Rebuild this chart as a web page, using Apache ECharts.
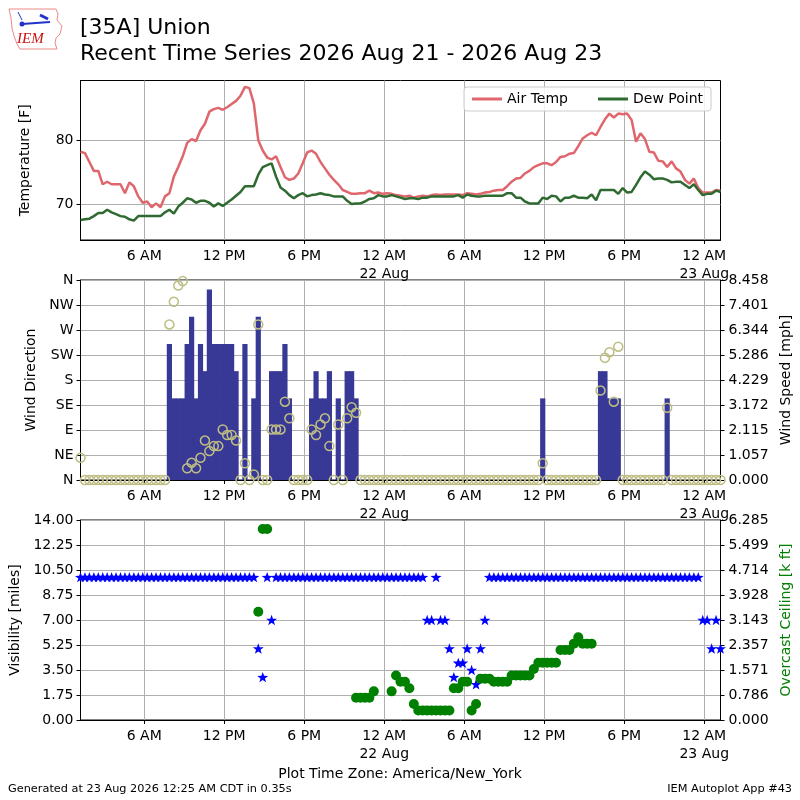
<!DOCTYPE html>
<html>
<head>
<meta charset="utf-8">
<script src="https://cdn.jsdelivr.net/npm/echarts@6/dist/echarts.min.js"></script>
<style>
html,body{margin:0;padding:0;background:#fff;}
#chart{width:800px;height:800px;}
</style>
</head>
<body>
<div id="chart"></div>
<script>
// ---- time base: observations every 20 minutes, hours since 2026-08-21 00:00 (America/New_York)
const startHour = 1.22;
const stepHour = 1 / 3;

// ---- x tick labels
const tickHours = [6, 12, 18, 24, 30, 36, 42, 48];
const tickLabels = ['6 AM', '12 PM', '6 PM', '12 AM\n22 Aug', '6 AM', '12 PM', '6 PM', '12 AM\n23 Aug'];

// ---- temperature panel (F)
const airTemp = [
78.2,78.0,76.6,75.2,75.2,73.1,73.5,73.1,73.1,73.1,
71.7,73.4,72.8,71.2,70.2,70.4,69.5,70.1,69.5,71.2,
71.7,74.3,75.8,77.5,79.6,80.2,79.9,81.6,82.6,84.5,
84.9,85.1,84.8,85.2,85.7,86.2,87.0,88.4,88.2,85.8,
80.0,78.4,77.3,77.0,77.5,75.8,74.2,73.8,74.0,74.8,
76.4,78.1,78.4,77.9,76.6,75.6,74.6,73.8,73.1,72.2,
71.9,71.6,71.6,71.7,71.7,72.1,71.7,71.8,71.6,71.7,
71.6,71.4,71.3,71.2,71.3,71.0,71.2,71.3,71.2,71.4,
71.5,71.4,71.5,71.5,71.5,71.5,71.4,71.7,71.6,71.5,
71.6,71.8,71.9,72.1,72.2,72.2,72.8,73.5,74.0,74.1,
74.8,75.2,75.8,76.1,76.4,76.4,76.1,76.6,77.4,77.5,
77.9,78.0,79.1,80.3,80.8,81.2,80.8,82.1,83.3,84.2,
83.6,84.2,84.1,84.2,83.2,79.8,81.1,80.2,78.2,78.1,
76.8,76.7,75.8,76.7,75.6,75.1,73.8,73.2,74.0,72.5,
71.8,71.8,71.8,72.2,72.1
];
const dewPoint = [
67.5,67.6,67.7,68.1,68.6,68.6,69.1,68.7,68.4,68.1,
68.0,67.6,67.4,68.1,68.1,68.1,68.1,68.1,68.1,68.7,
69.1,68.5,69.6,70.2,70.9,70.7,70.2,70.5,70.5,70.2,
69.6,70.1,69.7,70.2,70.7,71.3,71.9,72.8,72.8,72.8,
74.6,75.8,76.1,76.4,74.3,72.6,72.1,71.4,70.9,71.4,
71.7,71.2,71.4,71.5,71.7,71.5,71.4,71.2,71.2,71.2,
70.5,70.0,70.1,70.1,70.4,70.8,70.9,71.4,71.2,71.2,
71.4,71.2,71.0,70.8,70.9,70.9,70.8,71.0,71.0,71.2,
71.2,71.2,71.2,71.2,71.2,71.4,71.0,71.5,71.3,71.2,
71.2,71.3,71.3,71.3,71.3,71.3,71.7,71.7,71.0,71.0,
70.4,70.1,70.1,70.1,71.0,70.8,71.3,71.2,70.4,71.0,
71.0,71.3,71.0,71.0,70.9,71.5,70.6,72.2,72.2,72.2,
72.2,71.6,72.5,71.8,71.9,73.0,74.2,75.1,74.6,73.9,
74.0,74.0,73.8,73.4,73.5,73.5,73.0,72.5,73.1,72.2,
71.4,71.6,71.6,72.1,71.9
];
const tempTicks = [70, 80];

// ---- wind panel
const windSpeed = [ // mph
0,0,0,0,0,0,0,0,0,0, 0,0,0,0,0,0,0,0,0,0,
5.754,3.452,3.452,3.452,5.754,6.905,3.452,5.754,4.603,8.055,
5.754,5.754,5.754,5.754,5.754,4.603,0,5.754,0,3.452,
6.905,0,0,4.603,4.603,4.603,5.754,3.452,0,0,
0,0,3.452,4.603,3.452,3.452,4.603,0,3.452,0,
4.603,4.603,3.452,0,0,0,0,0,0,0,
0,0,0,0,0,0,0,0,0,0, 0,0,0,0,0,0,0,0,0,0,
0,0,0,0,0,0,0,0,0,0, 0,0,0,0,3.452,0,0,0,0,0,
0,0,0,0,0,0,0,4.603,4.603,3.452,
3.452,3.452,0,0,0,0,0,0,0,0,
0,0,3.452,0,0,0,0,0,0,0,
0,0,0,0,0
];
const windDir = [ // degrees
40,0,0,0,0,0,0,0,0,0, 0,0,0,0,0,0,0,0,0,0,
280,321,350,358,21,31,21,40,71,52,
61,61,91,81,81,71,0,30,0,10,
280,0,0,91,91,91,141,111,0,0,
0,0,91,81,100,111,61,0,100,0,
111,131,121,0,0,0,0,0,0,0,
0,0,0,0,0,0,0,0,0,0, 0,0,0,0,0,0,0,0,0,0,
0,0,0,0,0,0,0,0,0,0, 0,0,0,0,30,0,0,0,0,0,
0,0,0,0,0,0,0,161,220,230,
141,240,0,0,0,0,0,0,0,0,
0,0,130,0,0,0,0,0,0,0,
0,0,0,0,0
];
const dirLabels = ['N','NE','E','SE','S','SW','W','NW','N'];
const speedLabels = ['0.000','1.057','2.115','3.172','4.229','5.286','6.344','7.401','8.458'];

// ---- visibility / ceiling panel
const visibility = [ // miles
10,10,10,10,10,10,10,10,10,10, 10,10,10,10,10,10,10,10,10,10,
10,10,10,10,10,10,10,10,10,10, 10,10,10,10,10,10,10,10,10,10,
5,3,10,7,10,10,10,10,10,10,
10,10,10,10,10,10,10,10,10,10, 10,10,10,10,10,10,10,10,10,10,
10,10,10,10,10,10,10,10,7,7,
10,7,7,5,3,4,4,5,3.5,2.5,
5,7,10,10,10,10,10,10,10,10,
10,10,10,10,10,10,10,10,10,10, 10,10,10,10,10,10,10,10,10,10,
10,10,10,10,10,10,10,10,10,10, 10,10,10,10,10,10,10,10,10,10,
7,7,5,7,5
];
const ceiling = [ // k ft, null = no overcast
null,null,null,null,null,null,null,null,null,null,
null,null,null,null,null,null,null,null,null,null,
null,null,null,null,null,null,null,null,null,null,
null,null,null,null,null,null,null,null,null,null,
3.4,6.0,6.0,null,null,null,null,null,null,null,
null,null,null,null,null,null,null,null,null,null,
null,null,0.7,0.7,0.7,0.7,0.9,null,null,null,
0.9,1.4,1.2,1.2,1.0,0.5,0.3,0.3,0.3,0.3,
0.3,0.3,0.3,0.3,1.0,1.0,1.2,1.2,0.3,0.5,
1.3,1.3,1.3,1.2,1.2,1.2,1.2,1.4,1.4,1.4,
1.4,1.4,1.6,1.8,1.8,1.8,1.8,1.8,2.2,2.2,
2.2,2.4,2.6,2.4,2.4,2.4,null,null,null,null,
null,null,null,null,null,null,null,null,null,null,
null,null,null,null,null,null,null,null,null,null,
null,null,null,null,null
];
const ceilLabels = ['0.000','0.786','1.571','2.357','3.143','3.928','4.714','5.499','6.285'];

// ---- build
const times = airTemp.map((_, i) => startHour + i * stepHour);
const pairs = arr => arr.map((v, i) => [times[i], v]).filter(p => p[1] !== null);

const FONT = 'DejaVu Sans';
const GRID_COLOR = '#b0b0b0';
const xMin = 1.22, xMax = 49.22;

function xAxisFor(gi) {
  return {
    type: 'value', gridIndex: gi, min: xMin, max: xMax,
    axisLine: {show: true, lineStyle: {color: '#000', width: 1}},
    axisTick: {show: true, customValues: tickHours, length: 4, lineStyle: {color: '#000'}},
    axisLabel: {
      customValues: tickHours, margin: 7, color: '#000', fontFamily: FONT, fontSize: 14, lineHeight: 18,
      formatter: v => tickLabels[tickHours.indexOf(Math.round(v))] || ''
    },
    splitLine: {show: true, lineStyle: {color: GRID_COLOR, width: 1}}
  };
}
function yBase(gi, pos) {
  return {
    type: 'value', gridIndex: gi, position: pos,
    axisLine: {show: true, onZero: false, lineStyle: {color: '#000', width: 1}},
    axisTick: {show: true, length: 4, lineStyle: {color: '#000'}},
    axisLabel: {margin: 7, color: '#000', fontFamily: FONT, fontSize: 14},
    nameLocation: 'middle', nameRotate: 90,
    nameTextStyle: {color: '#000', fontFamily: FONT, fontSize: 14}
  };
}

const starPath = 'path://M0,-10 L2.35,-3.24 L9.51,-3.09 L3.8,1.24 L5.88,8.09 L0,4 L-5.88,8.09 L-3.8,1.24 L-9.51,-3.09 L-2.35,-3.24 Z';

const chart = echarts.init(document.getElementById('chart'), null, {renderer: 'canvas'});
const option = {
  animation: false,
  backgroundColor: '#fff',
  grid: [
    {left: 80.5, width: 640, top: 80.5, height: 159.5, show: true, borderColor: '#000', borderWidth: 1, backgroundColor: 'transparent', outerBoundsMode: 'none', containLabel: false},
    {left: 80.5, width: 640, top: 280, height: 200, show: true, borderColor: '#000', borderWidth: 1, backgroundColor: 'transparent', outerBoundsMode: 'none', containLabel: false},
    {left: 80.5, width: 640, top: 520, height: 200, show: true, borderColor: '#000', borderWidth: 1, backgroundColor: 'transparent', outerBoundsMode: 'none', containLabel: false}
  ],
  xAxis: [xAxisFor(0), xAxisFor(1), xAxisFor(2)],
  yAxis: [
    Object.assign(yBase(0, 'left'), {
      min: 64.35, max: 89.4, name: 'Temperature [F]', nameGap: 48,
      axisTick: {show: true, customValues: tempTicks, length: 4, lineStyle: {color: '#000'}},
      axisLabel: {customValues: tempTicks, margin: 7, color: '#000', fontFamily: FONT, fontSize: 14},
      splitLine: {show: true, lineStyle: {color: GRID_COLOR, width: 1}}
    }),
    Object.assign(yBase(1, 'left'), {
      min: 0, max: 360, interval: 45, name: 'Wind Direction', nameGap: 39,
      axisLabel: {margin: 7, color: '#000', fontFamily: FONT, fontSize: 14,
        formatter: v => dirLabels[Math.round(v / 45)]},
      splitLine: {show: true, lineStyle: {color: GRID_COLOR, width: 1}}
    }),
    Object.assign(yBase(1, 'right'), {
      min: 0, max: 8.458, interval: 1.05725, name: 'Wind Speed [mph]', nameGap: 53,
      axisLabel: {margin: 8, color: '#000', fontFamily: FONT, fontSize: 14,
        formatter: v => speedLabels[Math.round(v / 1.05725)]},
      splitLine: {show: false}
    }),
    Object.assign(yBase(2, 'left'), {
      min: 0, max: 14, interval: 1.75, name: 'Visibility [miles]', nameGap: 52,
      axisLabel: {margin: 7, color: '#000', fontFamily: FONT, fontSize: 14,
        formatter: v => v.toFixed(2)},
      splitLine: {show: true, lineStyle: {color: GRID_COLOR, width: 1}}
    }),
    Object.assign(yBase(2, 'right'), {
      min: 0, max: 6.285, interval: 0.785625, name: 'Overcast Ceiling [k ft]', nameGap: 50,
      nameTextStyle: {color: '#008000', fontFamily: FONT, fontSize: 14},
      axisLabel: {margin: 8, color: '#000', fontFamily: FONT, fontSize: 14,
        formatter: v => ceilLabels[Math.round(v / 0.785625)]},
      splitLine: {show: false}
    })
  ],
  legend: {
    left: 464, top: 87, orient: 'horizontal',
    data: ['Air Temp', 'Dew Point'],
    icon: 'rect', itemWidth: 30, itemHeight: 3, itemGap: 30,
    padding: [5, 8, 5, 8],
    backgroundColor: 'rgba(255,255,255,0.85)', borderColor: '#cccccc', borderWidth: 1, borderRadius: 3,
    textStyle: {color: '#000', fontFamily: FONT, fontSize: 14}
  },
  series: [
    {name: 'Air Temp', type: 'line', xAxisIndex: 0, yAxisIndex: 0, data: pairs(airTemp),
      symbol: 'none', lineStyle: {color: '#e0666d', width: 2.5}, itemStyle: {color: '#e0666d'}},
    {name: 'Dew Point', type: 'line', xAxisIndex: 0, yAxisIndex: 0, data: pairs(dewPoint),
      symbol: 'none', lineStyle: {color: '#2f6a31', width: 2.5}, itemStyle: {color: '#2f6a31'}},
    {name: 'Wind Speed', type: 'bar', xAxisIndex: 1, yAxisIndex: 2, data: pairs(windSpeed),
      barWidth: 5.2, itemStyle: {color: '#383896', opacity: 1}},
    {name: 'Wind Direction', type: 'scatter', xAxisIndex: 1, yAxisIndex: 1, data: pairs(windDir),
      symbol: 'circle', symbolSize: 9, clip: false,
      itemStyle: {color: 'rgba(0,0,0,0)', borderColor: '#bdbd84', borderWidth: 1.5, opacity: 1}},
    {name: 'Visibility', type: 'scatter', xAxisIndex: 2, yAxisIndex: 3, data: pairs(visibility),
      symbol: starPath, symbolKeepAspect: true, symbolSize: 11, itemStyle: {color: '#0000ff', opacity: 1}},
    {name: 'Ceiling', type: 'scatter', xAxisIndex: 2, yAxisIndex: 4, data: pairs(ceiling),
      symbol: 'circle', symbolSize: 10, itemStyle: {color: '#008000', opacity: 1}}
  ],
  graphic: [
    {type: 'text', left: 80, top: 17, style: {text: '[35A] Union', font: '22px "DejaVu Sans"', fill: '#000'}},
    {type: 'text', left: 80, top: 43, style: {text: 'Recent Time Series 2026 Aug 21 - 2026 Aug 23', font: '22px "DejaVu Sans"', fill: '#000'}},
    {type: 'text', left: 'center', top: 767, style: {text: 'Plot Time Zone: America/New_York', font: '14px "DejaVu Sans"', fill: '#000'}},
    {type: 'text', left: 8, top: 784, style: {text: 'Generated at 23 Aug 2026 12:25 AM CDT in 0.35s', font: '11.3px "DejaVu Sans"', fill: '#000'}},
    {type: 'text', right: 8, top: 784, style: {text: 'IEM Autoplot App #43', font: '11.3px "DejaVu Sans"', fill: '#000'}},
    // IEM logo (approximation)
    {type: 'polyline', shape: {points: [[9,9],[56,9],[58,14],[57,20],[62,26],[60,34],[56,38],[55,43],[57,49],[20,49],[17,44],[14,36],[12,28],[11,18],[9,9]]},
      style: {stroke: '#e88', fill: 'none', lineWidth: 1}},
    {type: 'line', shape: {x1: 22, y1: 24, x2: 50, y2: 22}, style: {stroke: '#2233cc', lineWidth: 2}},
    {type: 'circle', shape: {cx: 22, cy: 24, r: 2.5}, style: {fill: '#2233cc'}},
    {type: 'line', shape: {x1: 40, y1: 15, x2: 48, y2: 19}, style: {stroke: '#2233cc', lineWidth: 3}},
    {type: 'line', shape: {x1: 18, y1: 12, x2: 22, y2: 20}, style: {stroke: '#2233cc', lineWidth: 1}},
    {type: 'text', left: 17, top: 32, style: {text: 'IEM', font: 'italic 15px "Liberation Serif"', fill: '#cc1111'}}
  ]
};
chart.setOption(option);
</script>
</body>
</html>
